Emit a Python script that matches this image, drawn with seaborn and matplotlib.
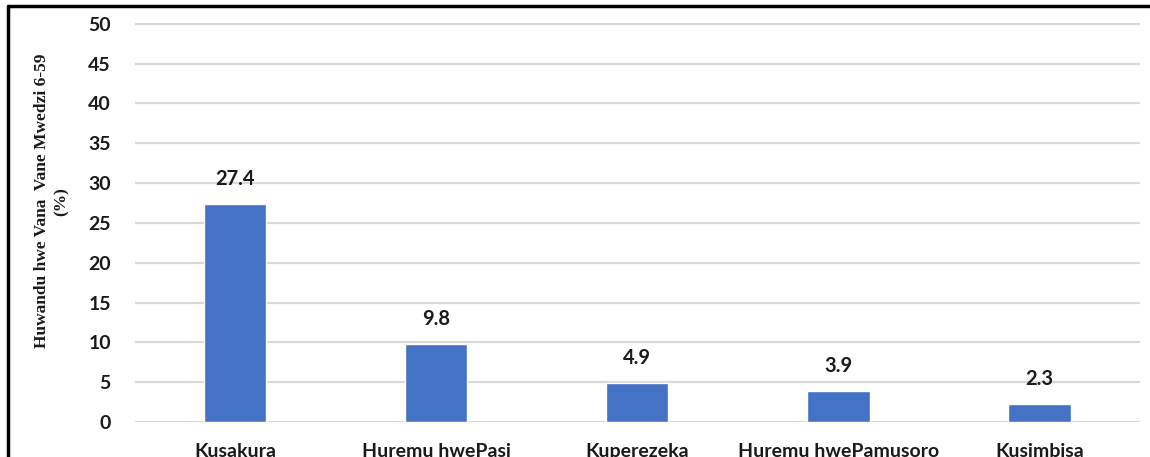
import matplotlib
matplotlib.use("Agg")
import matplotlib.pyplot as plt
from matplotlib.lines import Line2D
import seaborn as sns

categories = ["Kusakura", "Huremu hwePasi", "Kuperezeka", "Huremu hwePamusoro", "Kusimbisa"]
values = [27.4, 9.8, 4.9, 3.9, 2.3]
yticks = [0, 5, 10, 15, 20, 25, 30, 35, 40, 45, 50]
ylabel = "Huwandu hwe Vana  Vane Mwedzi 6-59\n(%)"

sns.set_theme(style="white")
plt.rcParams["font.family"] = ["Lato", "DejaVu Sans"]

fig = plt.figure(figsize=(11.5, 4.57), dpi=100)
ax = fig.add_axes([0.117, 0.0766, 0.8743, 0.8731])

sns.barplot(x=categories, y=values, color="#4472C4", saturation=1, width=0.31, ax=ax, zorder=3)

ax.set_ylim(0, 50.1)
ax.set_yticks(yticks)
ax.set_yticklabels([str(t) for t in yticks], fontsize=14, fontweight="bold", color="#1a1a1a")
ax.tick_params(axis="y", length=0, pad=17)
ax.tick_params(axis="x", length=0, pad=15)
for lbl in ax.get_xticklabels():
    lbl.set_fontsize(14)
    lbl.set_fontweight("bold")
    lbl.set_color("#1a1a1a")
ax.grid(axis="y", color="#d9d9d9", linewidth=1.6, zorder=0)
ax.grid(axis="x", visible=False)
for s in ax.spines.values():
    s.set_visible(False)
ax.set_xlabel("")
ax.set_ylabel("")

for i, v in enumerate(values):
    ax.annotate(f"{v}", (i, v), xytext=(0, 18), textcoords="offset points",
                ha="center", va="center", fontsize=14.5, fontweight="bold", color="#1a1a1a")

fig.text(0.045, 0.56, ylabel, rotation=90, ha="center", va="center",
         fontsize=12.5, fontweight="bold", family="Liberation Serif", color="#1a1a1a",
         linespacing=1.3)

# frame along the top and left edges
fig.add_artist(Line2D([8 / 1150, 8 / 1150], [0, 1 - 6 / 457], transform=fig.transFigure,
                      color="black", linewidth=2.5))
fig.add_artist(Line2D([8 / 1150, 1], [1 - 6 / 457, 1 - 6 / 457], transform=fig.transFigure,
                      color="black", linewidth=2.5))

fig.savefig("out.png", dpi=100)
